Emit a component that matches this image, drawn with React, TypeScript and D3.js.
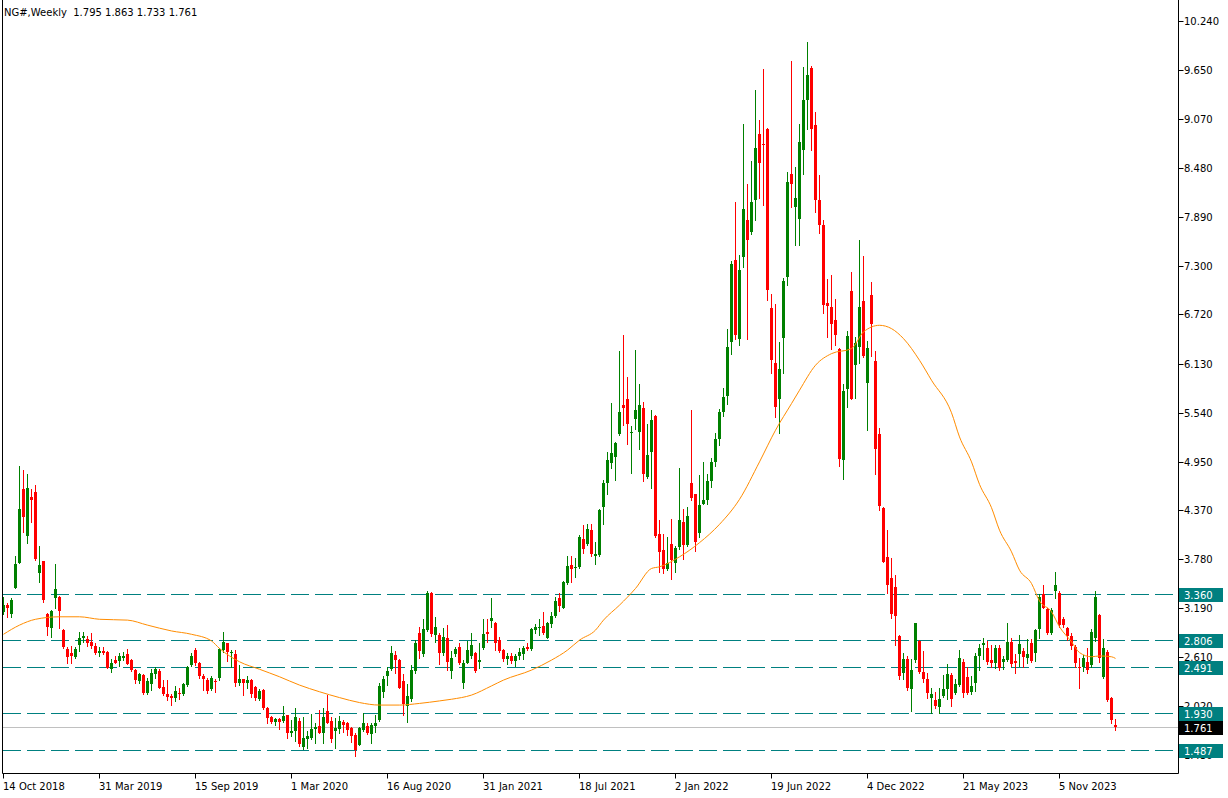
import React from 'react';
import * as d3 from 'd3';

const title = 'NG#,Weekly  1.795 1.863 1.733 1.761';

const opens = [
  3.15, 3.23, 3.12, 3.44, 3.74, 4.62, 4.06, 4.53, 4.59, 3.62,
  3.76, 3.12, 2.96, 3.32, 3.33, 2.93, 2.70, 2.66, 2.61, 2.75,
  2.83, 2.82, 2.79, 2.74, 2.66, 2.68, 2.67, 2.46, 2.57, 2.56,
  2.59, 2.64, 2.57, 2.45, 2.32, 2.39, 2.18, 2.28, 2.40, 2.44,
  2.25, 2.16, 2.14, 2.11, 2.17, 2.16, 2.27, 2.51, 2.69, 2.53,
  2.38, 2.33, 2.22, 2.32, 2.36, 2.69, 2.77, 2.65, 2.64, 2.30,
  2.34, 2.30, 2.33, 2.25, 2.10, 2.21, 2.00, 1.89, 1.83, 1.86,
  1.84, 1.91, 1.69, 1.72, 1.84, 1.53, 1.62, 1.63, 1.74, 1.78,
  1.69, 1.96, 1.84, 1.72, 1.74, 1.83, 1.82, 1.75, 1.67, 1.55,
  1.73, 1.78, 1.68, 1.78, 1.85, 2.19, 2.38, 2.46, 2.63, 2.57,
  2.32, 2.02, 2.10, 2.44, 2.90, 2.64, 2.93, 3.37, 2.87, 2.87,
  2.66, 2.84, 2.44, 2.64, 2.73, 2.30, 2.54, 2.62, 2.65, 2.55,
  2.71, 2.91, 3.04, 3.01, 2.81, 2.69, 2.58, 2.62, 2.56, 2.62,
  2.64, 2.73, 2.70, 2.93, 2.96, 2.98, 2.84, 3.00, 3.10, 3.32,
  3.20, 3.50, 3.71, 3.67, 3.69, 4.02, 3.96, 4.13, 3.82, 3.83,
  4.41, 4.70, 4.94, 5.01, 5.28, 5.63, 5.70, 5.30, 5.47, 5.31,
  5.60, 4.77, 5.07, 5.50, 4.09, 3.89, 3.66, 3.97, 3.74, 3.93,
  4.23, 3.95, 4.70, 4.56, 4.10, 4.45, 4.49, 4.72, 4.95, 5.22,
  5.55, 5.74, 6.39, 7.37, 6.42, 7.41, 7.85, 7.71, 8.09, 8.89,
  8.77, 8.95, 6.80, 6.14, 5.70, 6.44, 7.17, 8.41, 8.01, 7.87,
  8.69, 9.29, 9.68, 9.00, 8.10, 7.80, 6.86, 6.81, 6.65, 6.31,
  4.97, 5.83, 7.00, 6.11, 6.33, 6.88, 5.90, 6.95, 6.16, 5.28,
  4.40, 3.81, 3.56, 3.45, 2.86, 2.42, 2.58, 2.22, 2.57, 2.80,
  2.43, 2.34, 2.12, 2.09, 2.01, 2.14, 2.22, 2.39, 2.17, 2.27,
  2.55, 2.37, 2.19, 2.30, 2.62, 2.75, 2.72, 2.57, 2.54, 2.72,
  2.55, 2.57, 2.79, 2.56, 2.64, 2.68, 2.59, 2.78, 2.65, 2.94,
  3.36, 3.18, 2.90, 3.40, 3.37, 3.06, 2.95, 2.86, 2.73, 2.49,
  2.49, 2.55, 2.51, 2.83, 3.11, 2.37, 2.67, 2.12, 1.795,
];

const highs = [
  3.33, 3.26, 3.32, 3.82, 4.90, 4.85, 4.80, 4.62, 4.67, 3.94,
  3.76, 3.13, 3.17, 3.72, 3.34, 2.94, 2.73, 2.74, 2.73, 2.91,
  2.91, 2.86, 2.90, 2.77, 2.73, 2.73, 2.68, 2.58, 2.62, 2.65,
  2.67, 2.70, 2.58, 2.46, 2.41, 2.40, 2.35, 2.46, 2.49, 2.46,
  2.33, 2.33, 2.16, 2.26, 2.23, 2.30, 2.50, 2.65, 2.72, 2.55,
  2.40, 2.35, 2.38, 2.34, 2.72, 2.91, 2.78, 2.69, 2.69, 2.51,
  2.34, 2.38, 2.34, 2.26, 2.22, 2.22, 2.01, 1.90, 1.88, 1.87,
  2.02, 1.91, 1.85, 1.99, 1.87, 1.89, 1.72, 1.92, 1.81, 1.97,
  2.00, 2.15, 1.89, 1.88, 1.90, 1.85, 1.83, 1.77, 1.69, 1.77,
  1.94, 1.81, 1.82, 1.91, 2.29, 2.38, 2.49, 2.74, 2.68, 2.58,
  2.40, 2.28, 2.51, 2.81, 2.97, 3.06, 3.40, 3.39, 3.09, 2.89,
  2.95, 2.99, 2.68, 2.73, 2.77, 2.57, 2.80, 2.90, 2.67, 2.78,
  3.06, 3.06, 3.31, 3.03, 2.85, 2.70, 2.66, 2.66, 2.64, 2.71,
  2.74, 2.77, 2.95, 3.00, 3.06, 3.15, 3.03, 3.15, 3.33, 3.37,
  3.52, 3.82, 3.82, 3.79, 4.07, 4.19, 4.20, 4.20, 3.99, 4.39,
  4.73, 5.07, 5.66, 5.19, 6.28, 6.47, 5.97, 5.38, 6.29, 5.89,
  5.67, 5.40, 5.57, 5.51, 4.25, 4.08, 4.05, 4.26, 3.94, 4.88,
  4.39, 4.41, 5.57, 4.57, 4.79, 4.95, 4.80, 5.00, 5.30, 5.59,
  5.84, 6.55, 7.36, 8.07, 7.43, 9.01, 8.29, 8.56, 9.41, 9.06,
  9.67, 8.96, 6.97, 6.85, 6.39, 7.16, 8.43, 9.76, 8.49, 9.01,
  9.69, 9.99, 9.70, 9.15, 8.40, 7.85, 7.15, 7.19, 6.91, 6.32,
  5.89, 6.52, 7.23, 6.45, 7.61, 7.42, 6.40, 7.11, 6.28, 5.36,
  4.41, 4.13, 3.80, 3.59, 2.87, 2.65, 2.62, 2.58, 3.02, 2.81,
  2.68, 2.42, 2.24, 2.19, 2.24, 2.39, 2.52, 2.41, 2.34, 2.69,
  2.58, 2.49, 2.38, 2.66, 2.76, 2.83, 2.80, 2.75, 2.75, 2.75,
  2.62, 3.02, 2.83, 2.64, 2.87, 2.72, 2.82, 2.82, 2.94, 3.36,
  3.47, 3.19, 3.20, 3.63, 3.40, 3.09, 2.97, 2.90, 2.75, 2.59,
  2.63, 2.71, 2.94, 3.40, 3.12, 2.82, 2.69, 2.13, 1.863,
];

const lows = [
  3.12, 3.09, 3.09, 3.43, 3.73, 4.11, 3.98, 4.23, 3.77, 3.51,
  3.27, 2.87, 2.85, 3.20, 2.95, 2.72, 2.54, 2.54, 2.60, 2.68,
  2.79, 2.74, 2.72, 2.64, 2.62, 2.64, 2.47, 2.43, 2.53, 2.50,
  2.57, 2.52, 2.44, 2.29, 2.30, 2.16, 2.16, 2.21, 2.36, 2.23,
  2.15, 2.09, 2.03, 2.08, 2.10, 2.15, 2.26, 2.50, 2.51, 2.36,
  2.21, 2.18, 2.21, 2.19, 2.33, 2.67, 2.56, 2.49, 2.26, 2.27,
  2.15, 2.23, 2.13, 2.09, 2.09, 1.98, 1.82, 1.81, 1.79, 1.74,
  1.83, 1.64, 1.66, 1.60, 1.54, 1.50, 1.51, 1.62, 1.58, 1.69,
  1.58, 1.81, 1.59, 1.51, 1.69, 1.71, 1.67, 1.59, 1.42, 1.55,
  1.72, 1.68, 1.58, 1.71, 1.84, 2.13, 2.27, 2.45, 2.41, 2.24,
  1.91, 1.83, 2.08, 2.42, 2.60, 2.62, 2.92, 2.86, 2.79, 2.52,
  2.63, 2.45, 2.36, 2.62, 2.52, 2.23, 2.53, 2.59, 2.43, 2.47,
  2.70, 2.79, 2.97, 2.69, 2.67, 2.56, 2.52, 2.54, 2.50, 2.58,
  2.58, 2.69, 2.69, 2.89, 2.87, 2.88, 2.83, 2.97, 3.09, 3.16,
  3.19, 3.48, 3.51, 3.57, 3.68, 3.85, 3.95, 3.82, 3.72, 3.82,
  4.20, 4.56, 4.88, 4.73, 5.27, 5.39, 5.16, 4.82, 5.35, 5.11,
  4.72, 4.76, 4.64, 4.05, 3.63, 3.62, 3.65, 3.54, 3.63, 3.90,
  3.78, 3.94, 4.49, 3.88, 4.05, 4.44, 4.45, 4.65, 4.90, 5.15,
  5.50, 5.65, 6.25, 6.43, 6.35, 7.29, 6.43, 7.69, 7.85, 8.12,
  8.03, 6.89, 6.02, 5.49, 5.30, 6.02, 7.07, 8.01, 7.56, 7.55,
  8.41, 8.95, 8.70, 7.95, 7.70, 6.74, 6.45, 6.31, 6.35, 4.90,
  4.75, 5.61, 5.70, 5.72, 6.14, 6.21, 5.33, 6.22, 4.81, 4.37,
  3.75, 3.38, 3.08, 2.75, 2.34, 2.34, 2.21, 1.96, 2.55, 2.41,
  2.31, 2.12, 1.93, 1.99, 1.93, 2.13, 2.10, 2.02, 2.16, 2.26,
  2.13, 2.16, 2.16, 2.20, 2.45, 2.58, 2.52, 2.49, 2.48, 2.45,
  2.46, 2.56, 2.50, 2.42, 2.50, 2.49, 2.54, 2.55, 2.56, 2.83,
  3.19, 2.88, 2.88, 3.31, 2.97, 2.97, 2.81, 2.70, 2.49, 2.23,
  2.44, 2.42, 2.49, 2.80, 2.55, 2.35, 2.08, 1.81, 1.733,
];

const closes = [
  3.23, 3.20, 3.29, 3.72, 4.38, 4.29, 4.64, 4.49, 3.78, 3.71,
  3.29, 2.97, 3.16, 3.42, 3.16, 2.73, 2.61, 2.62, 2.70, 2.84,
  2.86, 2.78, 2.74, 2.66, 2.68, 2.65, 2.48, 2.54, 2.54, 2.62,
  2.62, 2.52, 2.45, 2.33, 2.40, 2.18, 2.32, 2.41, 2.46, 2.24,
  2.16, 2.13, 2.12, 2.20, 2.16, 2.28, 2.49, 2.62, 2.53, 2.38,
  2.34, 2.20, 2.36, 2.318, 2.70, 2.79, 2.67, 2.67, 2.30, 2.34,
  2.30, 2.33, 2.16, 2.11, 2.20, 1.99, 1.88, 1.83, 1.86, 1.83,
  1.90, 1.69, 1.72, 1.89, 1.56, 1.64, 1.66, 1.74, 1.77, 1.70,
  1.89, 1.82, 1.62, 1.75, 1.84, 1.79, 1.73, 1.66, 1.49, 1.75,
  1.82, 1.69, 1.79, 1.82, 2.26, 2.34, 2.44, 2.66, 2.57, 2.24,
  2.04, 2.14, 2.45, 2.77, 2.68, 2.94, 3.38, 2.88, 2.97, 2.66,
  2.85, 2.55, 2.60, 2.70, 2.54, 2.54, 2.69, 2.75, 2.44, 2.57,
  2.88, 2.88, 3.08, 2.77, 2.68, 2.58, 2.62, 2.56, 2.62, 2.67,
  2.71, 2.70, 2.94, 2.97, 2.97, 2.89, 3.02, 3.10, 3.28, 3.22,
  3.51, 3.70, 3.66, 3.69, 4.05, 3.90, 4.14, 3.84, 3.84, 4.37,
  4.70, 4.97, 5.06, 5.18, 5.55, 5.60, 5.41, 5.31, 5.57, 5.63,
  4.80, 5.03, 5.45, 4.06, 3.87, 3.66, 3.74, 3.77, 3.92, 4.25,
  3.95, 4.30, 4.52, 3.99, 4.43, 4.49, 4.72, 4.95, 5.22, 5.55,
  5.73, 6.33, 7.33, 6.47, 7.25, 7.99, 7.62, 8.07, 8.72, 8.54,
  8.76, 7.01, 6.17, 5.61, 6.07, 7.12, 8.31, 8.29, 8.12, 8.79,
  9.29, 9.60, 8.95, 8.10, 7.80, 6.83, 6.82, 6.61, 6.47, 4.98,
  5.80, 6.46, 5.71, 6.38, 6.81, 6.22, 6.32, 6.61, 5.11, 4.42,
  3.75, 3.47, 3.12, 3.10, 2.38, 2.58, 2.24, 2.45, 3.01, 2.43,
  2.34, 2.18, 2.16, 2.02, 2.10, 2.22, 2.40, 2.10, 2.28, 2.60,
  2.18, 2.17, 2.26, 2.62, 2.72, 2.78, 2.55, 2.54, 2.72, 2.48,
  2.58, 2.79, 2.52, 2.54, 2.76, 2.61, 2.64, 2.56, 2.93, 3.33,
  3.20, 2.90, 3.17, 3.47, 2.99, 2.99, 2.86, 2.74, 2.54, 2.47,
  2.60, 2.45, 2.91, 3.33, 2.59, 2.71, 2.09, 1.85, 1.761,
];

// moving average (orange) at these bar indices
const maIndex = [
  0, 4, 8, 14, 19, 24, 31, 36, 42, 47, 52, 54, 59, 64, 69, 74, 79, 84, 89, 94,
  99, 104, 109, 112, 117, 122, 125, 132, 137, 141, 144, 148, 150, 154, 158, 162,
  164, 169, 174, 179, 184, 189, 193, 197, 199, 203, 207, 212, 215, 219, 222, 225,
  229, 232, 237, 239, 242, 244, 247, 249, 252, 254, 257, 259, 262, 264, 267, 269,
  272, 274, 277, 278,
];
const maValue = [
  2.88, 2.99, 3.06, 3.09, 3.09, 3.06, 3.05, 2.99, 2.92, 2.88, 2.80, 2.71, 2.55,
  2.46, 2.37, 2.27, 2.19, 2.12, 2.06, 2.03, 2.03, 2.05, 2.08, 2.10, 2.15, 2.26,
  2.33, 2.45, 2.57, 2.69, 2.81, 2.93, 3.05, 3.23, 3.43, 3.67, 3.69, 3.81, 3.98,
  4.20, 4.50, 4.95, 5.33, 5.65, 5.81, 6.11, 6.25, 6.31, 6.51, 6.59, 6.55, 6.43,
  6.17, 5.93, 5.54, 5.25, 4.95, 4.68, 4.40, 4.13, 3.87, 3.65, 3.49, 3.28, 3.15,
  2.97, 2.79, 2.66, 2.61, 2.62, 2.61, 2.59,
];

const levelLines = [3.36, 2.806, 2.491, 1.93, 1.487];
const levelLabels = ['3.360', '2.806', '2.491', '1.930', '1.487'];
const lastPrice = 1.761;
const lastLabel = '1.761';

const yTicks = [10.24, 9.65, 9.07, 8.48, 7.89, 7.3, 6.72, 6.13, 5.54, 4.95, 4.37, 3.78, 3.19, 2.61, 2.02, 1.43];
const yTickLabels = ['10.240', '9.650', '9.070', '8.480', '7.890', '7.300', '6.720', '6.130', '5.540', '4.950', '4.370', '3.780', '3.190', '2.610', '2.020', '1.430'];

const xTickIndex = [0, 24, 48, 72, 96, 120, 144, 168, 192, 216, 240, 264];
const xTickLabels = ['14 Oct 2018', '31 Mar 2019', '15 Sep 2019', '1 Mar 2020', '16 Aug 2020', '31 Jan 2021', '18 Jul 2021', '2 Jan 2022', '19 Jun 2022', '4 Dec 2022', '21 May 2023', '5 Nov 2023'];

const W = 1228;
const H = 798;
const plotLeft = 2.5;
const plotRight = 1178.5;
const plotBottom = 773.5;
const font = 'DejaVu Sans, sans-serif';

export default function App() {
  const n = closes.length;
  const x = d3.scaleLinear().domain([0, n - 1]).range([3.5, 3.5 + 4 * (n - 1)]);
  const y = d3.scaleLinear().domain([1.487, 10.24]).range([750.3, 21.3]);
  const maLine = d3
    .line<number>()
    .x((_, k) => x(maIndex[k]))
    .y((d) => y(d))
    .curve(d3.curveMonotoneX)(maValue);

  const ry = (v: number) => Math.round(y(v));

  return (
    <svg width={W} height={H} style={{ position: 'absolute', left: 0, top: 0, background: '#fff' }}>
      <defs>
        <clipPath id="plot">
          <rect x={plotLeft} y={0} width={plotRight - plotLeft} height={plotBottom} />
        </clipPath>
      </defs>
      <rect x={0} y={0} width={W} height={H} fill="#fff" />
      <g clipPath="url(#plot)">
        {levelLines.map((v, k) => (
          <line key={'lv' + k} x1={3} x2={plotRight} y1={ry(v) + 0.5} y2={ry(v) + 0.5} stroke="#008080" strokeWidth={1} strokeDasharray="18 6" />
        ))}
        <line x1={0} x2={plotRight} y1={ry(lastPrice) + 0.5} y2={ry(lastPrice) + 0.5} stroke="#c0c0c0" strokeWidth={1} />
        {closes.map((c, i) => {
          const o = opens[i];
          const up = c >= o;
          const color = up ? '#008000' : '#ff0000';
          const cx = x(i);
          const yt = ry(Math.max(o, c));
          const yb = ry(Math.min(o, c));
          const h = Math.max(1, yb - yt);
          return (
            <g key={'c' + i} shapeRendering="crispEdges">
              <line x1={cx} x2={cx} y1={ry(highs[i])} y2={ry(lows[i]) + 1} stroke={color} strokeWidth={1} />
              <rect x={cx - 1.5} y={yt} width={3} height={h} fill={color} />
            </g>
          );
        })}
        <path d={maLine || ''} fill="none" stroke="#ff8c00" strokeWidth={1} />
      </g>
      {/* frame */}
      <line x1={plotLeft} x2={plotLeft} y1={0} y2={plotBottom} stroke="#000" strokeWidth={1} />
      <line x1={plotRight} x2={plotRight} y1={0} y2={plotBottom} stroke="#000" strokeWidth={1} />
      <line x1={plotLeft} x2={plotRight} y1={plotBottom} y2={plotBottom} stroke="#000" strokeWidth={1} />
      {/* title */}
      <text x={4} y={16} fontFamily={font} fontSize={10} fill="#000" style={{ whiteSpace: 'pre' }}>
        {title}
      </text>
      {/* y ticks */}
      {yTicks.map((v, k) => (
        <g key={'yt' + k}>
          <line x1={plotRight} x2={plotRight + 5} y1={ry(v) + 0.5} y2={ry(v) + 0.5} stroke="#000" strokeWidth={1} />
          <text x={1184} y={ry(v) + 4} fontFamily={font} fontSize={10} fill="#000">
            {yTickLabels[k]}
          </text>
        </g>
      ))}
      {/* level labels */}
      {levelLines.map((v, k) => (
        <g key={'ll' + k}>
          <rect x={1179} y={ry(v) - 6} width={44} height={14} fill="#008080" />
          <text x={1184} y={ry(v) + 5} fontFamily={font} fontSize={10} fill="#fff">
            {levelLabels[k]}
          </text>
        </g>
      ))}
      <rect x={1179} y={ry(lastPrice) - 6} width={44} height={14} fill="#000" />
      <text x={1184} y={ry(lastPrice) + 5} fontFamily={font} fontSize={10} fill="#fff">
        {lastLabel}
      </text>
      {/* x ticks */}
      {xTickIndex.map((idx, k) => (
        <g key={'xt' + k}>
          <line x1={Math.round(x(idx)) - 0.5} x2={Math.round(x(idx)) - 0.5} y1={plotBottom} y2={plotBottom + 5} stroke="#000" strokeWidth={1} />
          <text x={x(idx) - 0.5} y={790} fontFamily={font} fontSize={10} fill="#000">
            {xTickLabels[k]}
          </text>
        </g>
      ))}
    </svg>
  );
}
